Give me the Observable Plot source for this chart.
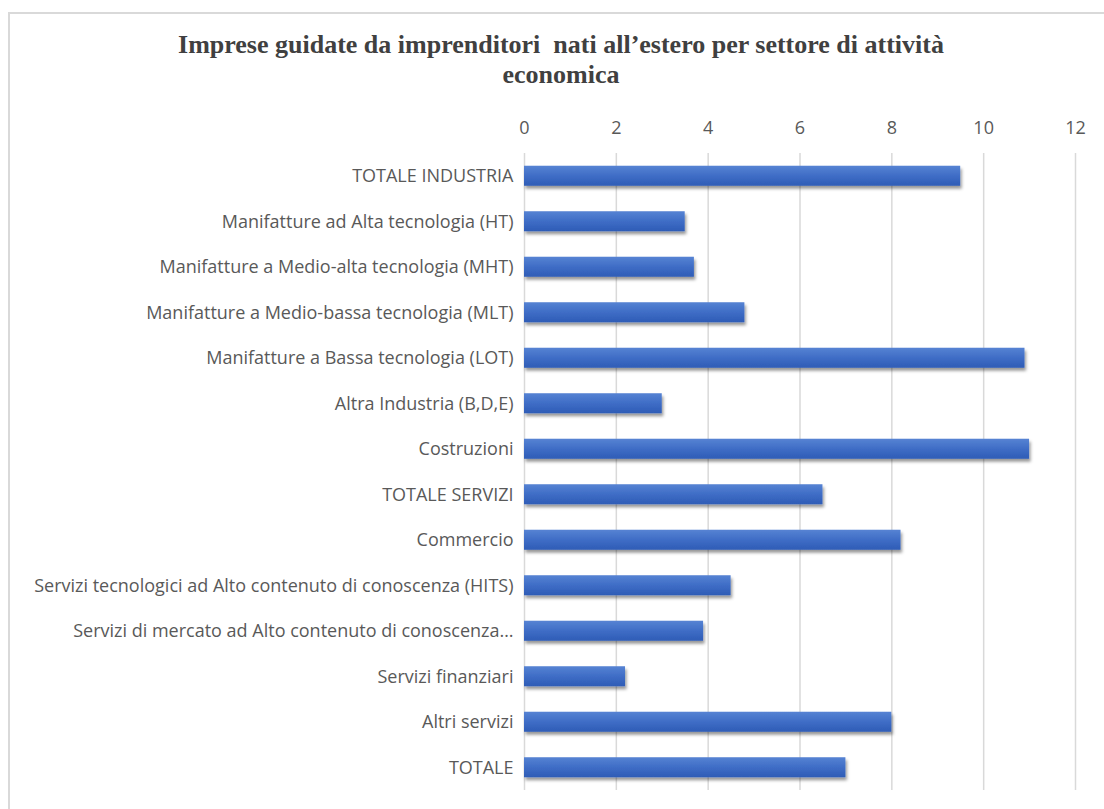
<!DOCTYPE html>
<html>
<head>
<meta charset="utf-8">
<script src="https://cdn.jsdelivr.net/npm/d3@7"></script>
<script src="https://cdn.jsdelivr.net/npm/@observablehq/plot@0.6"></script>
<style>
  html, body { margin: 0; padding: 0; background: #fff; }
  body { width: 1104px; height: 809px; overflow: hidden; position: relative; }
  #frame { position: absolute; left: 8px; top: 12px; width: 1110px; height: 820px; border: 2px solid #d9d9d9; box-sizing: border-box; }
  #title { position: absolute; left: 0; top: 30px; width: 1122px; text-align: center;
    font-family: "Liberation Serif", serif; font-weight: bold; font-size: 26px; line-height: 30px; color: #404040; }
  #chart { position: absolute; left: 0; top: 100px; }
</style>
</head>
<body>
<div id="frame"></div>
<div id="title">Imprese guidate da imprenditori&nbsp; nati all’estero per settore di attività<br>economica</div>
<div id="chart"></div>
<script>
const categories = [
  "TOTALE INDUSTRIA",
  "Manifatture ad Alta tecnologia (HT)",
  "Manifatture a Medio-alta tecnologia (MHT)",
  "Manifatture a Medio-bassa tecnologia (MLT)",
  "Manifatture a Bassa tecnologia (LOT)",
  "Altra Industria (B,D,E)",
  "Costruzioni",
  "TOTALE SERVIZI",
  "Commercio",
  "Servizi tecnologici ad Alto contenuto di conoscenza (HITS)",
  "Servizi di mercato ad Alto contenuto di conoscenza…",
  "Servizi finanziari",
  "Altri servizi",
  "TOTALE"
];
const values = [9.5, 3.5, 3.7, 4.8, 10.9, 3.0, 11.0, 6.5, 8.2, 4.5, 3.9, 2.2, 8.0, 7.0];
const xTicks = [0, 2, 4, 6, 8, 10, 12];

const data = categories.map((c, i) => ({category: c, value: values[i]}));

const chart = Plot.plot({
  width: 1104,
  height: 709,
  marginTop: 53,
  marginBottom: 19,
  marginLeft: 524,
  marginRight: 29,
  style: {fontFamily: "'Open Sans', sans-serif", fontSize: "18px", color: "#595959", background: "transparent"},
  x: {domain: [0, 12], ticks: xTicks, axis: "top", tickSize: 0, tickPadding: 20, label: null},
  y: {domain: categories, paddingInner: 0.56, paddingOuter: 0.28, round: false, tickSize: 0, tickPadding: 11, label: null},
  marks: [
    Plot.ruleX(xTicks, {stroke: "#d9d9d9", strokeWidth: 1.5}),
    Plot.barX(data, {y: "category", x: "value", fill: "url(#barGrad)"})
  ]
});

// gradient + shadow defs (style only)
const ns = "http://www.w3.org/2000/svg";
const defs = document.createElementNS(ns, "defs");
defs.innerHTML = `
  <linearGradient id="barGrad" x1="0" y1="0" x2="0" y2="1">
    <stop offset="0" stop-color="#5683d3"/>
    <stop offset="0.5" stop-color="#3f6dc6"/>
    <stop offset="1" stop-color="#2e5cb6"/>
  </linearGradient>
  <filter id="shadow" x="-5%" y="-30%" width="110%" height="180%">
    <feDropShadow dx="1.5" dy="3" stdDeviation="1.8" flood-color="#000" flood-opacity="0.4"/>
  </filter>`;
chart.insertBefore(defs, chart.firstChild);
chart.querySelectorAll("g[aria-label='bar']").forEach(g => g.setAttribute("filter", "url(#shadow)"));
chart.querySelectorAll("g[aria-label='y-axis tick label'] text, g[aria-label='x-axis tick label'] text").forEach(t => t.setAttribute("fill", "#595959"));
document.getElementById("chart").appendChild(chart);
</script>
</body>
</html>
